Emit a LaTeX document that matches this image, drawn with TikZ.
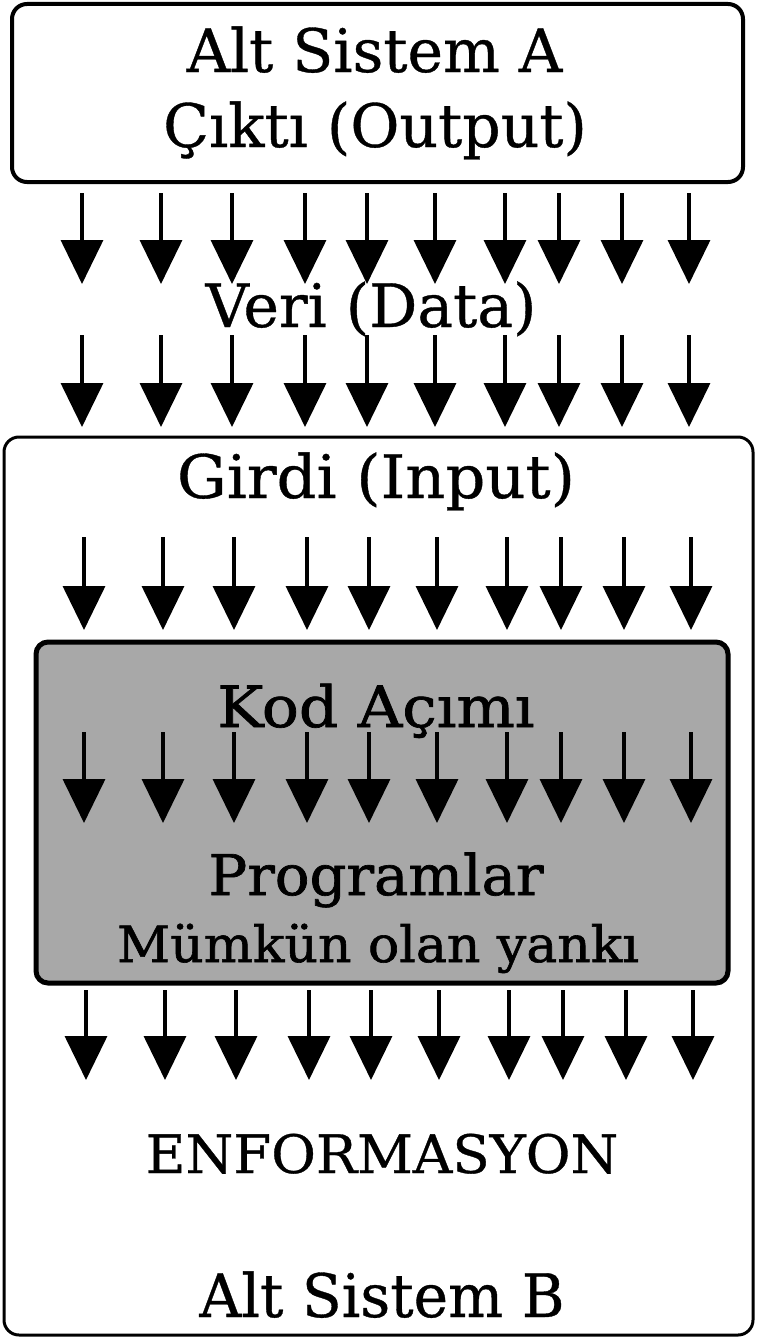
\documentclass[tikz,border=0pt]{standalone}
\usepackage{fontspec}
\setmainfont{DejaVu Serif}[FakeBold=0.6]
\newfontfamily\screenfont{DejaVu Serif}[FakeBold=1.2]
\usetikzlibrary{arrows.meta}
\definecolor{screen}{RGB}{168,168,168}
\newcommand{\stretchx}[2]{\scalebox{#1}[1]{#2}}
\begin{document}
\begin{tikzpicture}[x=1pt,y=-1pt,
  panel/.style={draw=black, rounded corners=15pt, inner sep=0pt, outer sep=0pt},
  lbl/.style={anchor=base, inner sep=0pt, outer sep=0pt, font=\fontsize{#1}{#1}\selectfont},
  slbl/.style={anchor=base, inner sep=0pt, outer sep=0pt, font=\screenfont\fontsize{#1}{#1}\selectfont},
  flow/.style={line width=3.5pt, -{Triangle[width=42pt,length=44pt]}}]
  \useasboundingbox (0,0) rectangle (756,1338);

  % subsystem frames
  \node[panel, line width=4pt, minimum width=731pt, minimum height=178pt] (sysA) at (377.5,93) {};
  \node[panel, line width=3pt, minimum width=749pt, minimum height=898pt] (sysB) at (378.5,886) {};
  \node[panel, line width=5pt, rounded corners=12pt, fill=screen, minimum width=692pt, minimum height=341pt] (decode) at (382,812.5) {};

  % five rows of parallel data arrows: row/top/tip/x-offset
  \foreach \r/\top/\tip/\dx in {1/193/284/0, 2/335/427/0, 3/537/630/2, 4/732/823/2, 5/990/1080/4}{
    \foreach \x [count=\k] in {82,161,232,305,367,435,505,559,622,689}{
      \coordinate (s\r-\k) at (\x+\dx,\top);
      \coordinate (e\r-\k) at (\x+\dx,\tip);
      \draw[flow] (s\r-\k) -- (e\r-\k);
    }
  }

  % labels
  \node[lbl=60] (tA) at (374.5,72) {Alt Sistem A};
  \node[lbl=60] (tOut) at (375,147) {Çıktı (Output)};
  \node[lbl=60] (tData) at (371,327) {Veri (Data)};
  \node[lbl=60] (tIn) at (376,498) {\stretchx{1.04}{Girdi (Input)}};
  \node[slbl=57] (tDec) at (376,727) {\stretchx{1.08}{Kod Açımı}};
  \node[slbl=56] (tProg) at (376,895) {\stretchx{1.03}{Programlar}};
  \node[slbl=50] (tEcho) at (378,962) {\stretchx{1.04}{Mümkün olan yankı}};
  \node[lbl=53] (tInfo) at (382,1173) {\stretchx{1.03}{ENFORMASYON}};
  \node[lbl=60] (tB) at (382,1317) {\stretchx{0.97}{Alt Sistem B}};
\end{tikzpicture}
\end{document}
